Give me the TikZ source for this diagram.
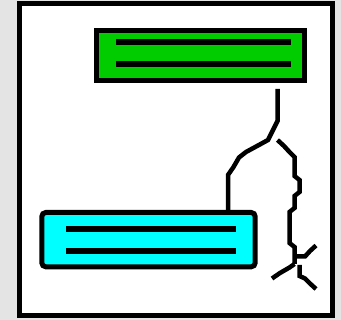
\documentclass[tikz,border=0pt]{standalone}
\usepackage{tikz}
\definecolor{bgmarble}{RGB}{228,228,228}
\definecolor{boxgreen}{RGB}{0,204,0}
\definecolor{boxcyan}{RGB}{0,255,255}
\begin{document}
\begin{tikzpicture}[x=1pt,y=-1pt,
  barline/.style={line width=5.5pt},
  stick/.style={line width=4.5pt,line join=miter},
  boxstyle/.style={draw=black,line width=5pt,inner sep=0pt,minimum width=#1}]
\useasboundingbox (0,0) rectangle (341,320);
\fill[bgmarble] (0,0) rectangle (341,320);
% frame
\draw[line width=5pt,fill=white] (19.5,3.5) rectangle (332.5,315.5);
% green box
\node[boxstyle=208pt,fill=boxgreen,minimum height=49.4pt,anchor=north west] (green) at (94.3,28.3) {};
\draw[barline] (116,42.2) -- (290.7,42.2);
\draw[barline] (116,63.8) -- (290.7,63.8);
% cyan box
\node[boxstyle=213.4pt,fill=boxcyan,minimum height=54.3pt,rounded corners=4pt,anchor=north west] (cyan) at (39.3,210) {};
\draw[barline] (66,228.8) -- (236,228.8);
\draw[barline] (66,251.2) -- (236,251.2);
% stick figure
\coordinate (top) at (277.5,89);
\coordinate (fork) at (277.5,121);
\coordinate (neck) at (228,175);
\coordinate (hip) at (294.5,264);
\draw[stick] (top) -- (fork) -- (268,140) -- (258,145.5) -- (246,152) -- (239,157.5) -- (233.5,167) -- (neck) -- (neck |- cyan.north);
\draw[stick] (277.5,140) -- (284,146) -- (289.5,152) -- (294.5,157) -- (294.5,176) -- (299.5,180) -- (299.5,192) -- (294.5,196) -- (294.5,208) -- (289.5,212) -- (289.5,243) -- (294.5,247) -- (hip);
\draw[stick] (294.5,256.5) -- (305,256.5) -- (310,251) -- (316,245.5);
\draw[stick] (hip) -- (289.5,267.5) -- (280,273) -- (272,278.5);
\draw[stick] (299.5,265) -- (299.5,276) -- (305,278.5) -- (310,283.5) -- (316,289);
\end{tikzpicture}
\end{document}
